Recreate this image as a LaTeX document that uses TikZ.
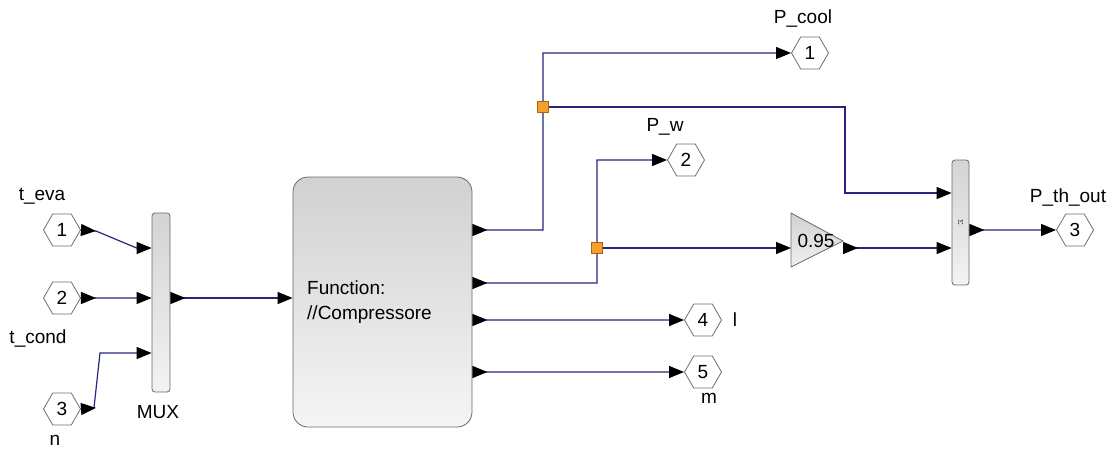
\documentclass[tikz,border=0pt]{standalone}
\usepackage{fontspec}
\setmainfont{Liberation Sans}
\usetikzlibrary{arrows.meta,shapes.geometric,calc}
\definecolor{wirec}{RGB}{38,38,125}
\definecolor{hexc}{RGB}{110,110,110}
\definecolor{blkc}{RGB}{105,105,105}
\definecolor{junc}{RGB}{245,160,40}
\definecolor{juncd}{RGB}{170,100,20}
\newcommand{\lab}{\fontsize{19}{21}\selectfont}
\begin{document}
\begin{tikzpicture}[x=1pt,y=-1pt,
  wire/.style={draw=wirec, line width=1.2pt},
  inarr/.style={-{Triangle[length=15pt,width=12pt,color=black]}},
  bothend/.style={{Triangle[reversed,length=15pt,width=12pt,color=black]}-{Triangle[length=15pt,width=12pt,color=black]}},
  hexport/.style={regular polygon, regular polygon sides=6, minimum size=37pt,
     inner sep=0pt, draw=hexc, fill=white, line width=0.8pt, font=\lab},
  lbl/.style={font=\lab, inner sep=0pt},
  barblk/.style={draw=blkc, line width=0.8pt, rounded corners=3pt,
     top color=black!17, bottom color=black!5, inner sep=0pt},
  fnblk/.style={draw=blkc, line width=0.8pt, rounded corners=15pt,
     top color=black!18, bottom color=black!4, inner sep=0pt},
  gainblk/.style={draw=blkc, line width=0.8pt, top color=black!18, bottom color=black!6},
  junction/.style={draw=juncd, fill=junc, line width=0.5pt, minimum size=11pt, inner sep=0pt}
]
\useasboundingbox (0,0) rectangle (1113,453);

% input ports
\node[hexport] (h1) at (62,230) {1};
\node[hexport] (h2) at (62,298) {2};
\node[hexport] (h3) at (62,409) {3};
\node[lbl] (lt1) at (42,196) {t\_eva};
\node[lbl] (lt2) at (38,338) {t\_cond};
\node[lbl] (lt3) at (55,440) {n};

% MUX
\node[barblk, minimum width=18pt, minimum height=179pt] (mux) at (161,302.5) {};
\node[lbl] (lmux) at (158,412) {MUX};
\coordinate (mi1) at (mux.west |- 0,248);
\coordinate (mi2) at (mux.west |- 0,298);
\coordinate (mi3) at (mux.west |- 0,353);
\coordinate (mo) at (mux.east |- 0,298);

% function block
\node[fnblk, minimum width=179pt, minimum height=250pt] (fn) at (382.5,302) {};
\node[lbl, align=left, anchor=west] (fntxt) at (307,302) {Function:\\[4pt]//Compressore};
\coordinate (fi) at (fn.west |- 0,298);
\coordinate (fo1) at (fn.east |- 0,230);
\coordinate (fo2) at (fn.east |- 0,283);
\coordinate (fo3) at (fn.east |- 0,320);
\coordinate (fo4) at (fn.east |- 0,372);

% output ports
\node[hexport] (o1) at (810,53) {1};
\node[lbl] (lo1) at (803,19) {P\_cool};
\node[hexport] (o2) at (686,160) {2};
\node[lbl] (lo2) at (665,127) {P\_w};
\node[hexport] (o3) at (1075,230) {3};
\node[lbl] (lo3) at (1068,197) {P\_th\_out};
\node[hexport] (o4) at (703,320) {4};
\node[lbl] (lo4) at (735,320) {l};
\node[hexport] (o5) at (703,372) {5};
\node[lbl] (lo5) at (709,398) {m};

% gain
\draw[gainblk] (791,213) -- (843,241) -- (791,267) -- cycle;
\node[lbl] (gain) at (816,241) {0.95};
\coordinate (gin) at (791,248);
\coordinate (gout) at (843,248);

% sum
\node[barblk, minimum width=17pt, minimum height=125pt] (sum) at (960.5,222.5) {};
\node[font=\fontsize{7}{7}\selectfont, rotate=-90, inner sep=0pt] (sig) at (sum.center) {$\Sigma$};
\coordinate (si1) at (sum.west |- 0,193);
\coordinate (si2) at (sum.west |- 0,248);
\coordinate (so) at (sum.east |- 0,230);

% junctions
\coordinate (j1) at (543,107);
\coordinate (j2) at (597,248);

% wires
\draw[wire,bothend] (h1.east) -- ++(15,1) -- ($(mi1)+(-15,0)$) -- (mi1);
\draw[wire,bothend] (h2.east) -- (mi2);
\draw[wire,bothend] (h3.east) -- ++(13,-1) -- (100,353) -- (mi3);
\draw[wire,bothend] (mo) -- (fi);
\draw[wire,bothend] (fo1) -- (fo1 -| j1) -- (j1 |- o1) -- (o1.west);
\draw[wire,inarr] (j1) -- (845,107) -- (845,193) -- (si1);
\draw[wire,bothend] (fo2) -- (fo2 -| j2) -- (j2 |- o2) -- (o2.west);
\draw[wire,inarr] (j2) -- (gin);
\draw[wire,bothend] (gout) -- (si2);
\draw[wire,bothend] (so) -- (o3.west);
\draw[wire,bothend] (fo3) -- (o4.west);
\draw[wire,bothend] (fo4) -- (o5.west);

\node[junction] (jn1) at (j1) {};
\node[junction] (jn2) at (j2) {};
\end{tikzpicture}
\end{document}
